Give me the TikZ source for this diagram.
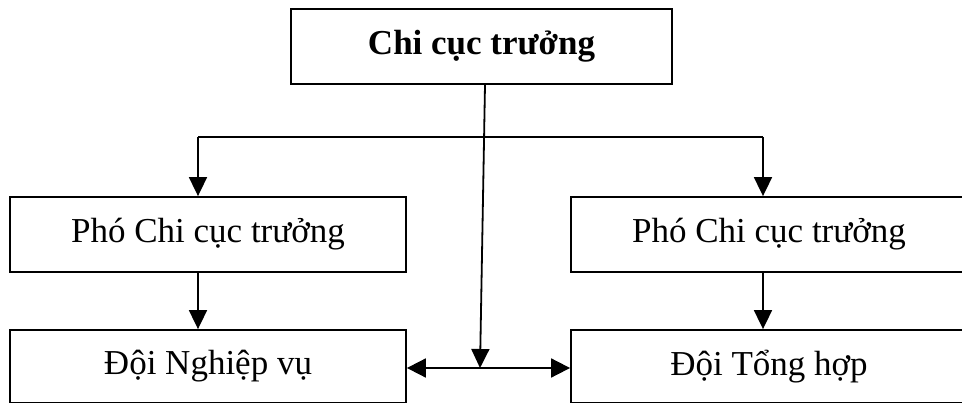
\documentclass[tikz,border=0pt]{standalone}
\usepackage{fontspec}
\setmainfont{Liberation Serif}
\usetikzlibrary{arrows.meta,positioning,calc}

\begin{document}
\begin{tikzpicture}[
  x=1pt, y=-1pt,
  unit/.style={draw, line width=1.8pt, minimum width=396pt, minimum height=75pt, inner sep=0pt, align=center, font=\fontsize{35}{40}\selectfont},
  team/.style={unit, minimum height=73pt},
  arr/.style={line width=1.8pt, -{Triangle[width=18pt,length=19pt]}},
  arrs/.style={line width=1.8pt, {Triangle[width=19pt,length=19pt]}-{Triangle[width=19pt,length=19pt]}}
]
  \useasboundingbox (0,0) rectangle (962,403);
  \clip (0,0) rectangle (962,403);

  %% Head of branch
  \node[unit, minimum width=381pt, font=\fontsize{35}{40}\selectfont\bfseries] (head) at (481.5,46.5) {Chi cục trưởng};

  %% Deputies
  \node[unit] (phoL) at (208,234.5) {Phó Chi cục trưởng};
  \node[unit] (phoR) at (769,234.5) {Phó Chi cục trưởng};

  %% Teams
  \node[team] (doiL) at (208,366.5) {Đội Nghiệp vụ};
  \node[team] (doiR) at (769,366.5) {Đội Tổng hợp};

  %% Branch bar to deputies
  \coordinate (barL) at (198,137);
  \coordinate (barR) at (763,137);
  \draw[line width=1.8pt] (barL) -- (barR);
  \draw[arr] (barL) -- (barL |- phoL.north);
  \draw[arr] (barR) -- (barR |- phoR.north);

  %% Deputies to teams
  \draw[arr] (barL |- phoL.south) -- (barL |- doiL.north);
  \draw[arr] (barR |- phoR.south) -- (barR |- doiR.north);

  %% Link between teams
  \coordinate (join) at (480,368);
  \draw[arrs] ([yshift=-1.5pt]doiL.east) -- ([yshift=-1.5pt]doiR.west);
  \draw[arr] ([xshift=3.5pt]head.south) -- (join);
\end{tikzpicture}
\end{document}
